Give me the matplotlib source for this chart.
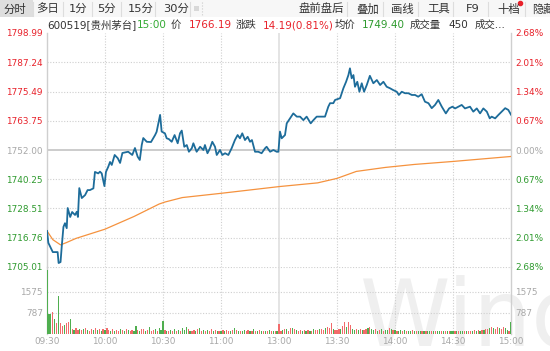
import numpy as np
import matplotlib
matplotlib.use('Agg')
import matplotlib.pyplot as plt
from matplotlib.patches import Rectangle

plt.rcParams['font.family'] = ['DejaVu Sans', 'Noto Sans CJK SC']

# ---- data ----
prev_close = 1752.00
price_ticks = [1798.99, 1787.24, 1775.49, 1763.75, 1752.00, 1740.25, 1728.51, 1716.76, 1705.01]
pct_labels = ['2.68%', '2.01%', '1.34%', '0.67%', '0.00%', '0.67%', '1.34%', '2.01%', '2.68%']
vol_ticks = [787, 1575]
time_pos = [0, 30, 60, 90, 120, 150, 180, 210, 240]
time_labels = ['09:30', '10:00', '10:30', '11:00', '13:00', '13:30', '14:00', '14:30', '15:00']

# price line, minute index (0..240) and price
price_t = [0, 0.7, 3, 5.5, 6, 7, 7.6, 8.5, 9.3, 10.2, 10.7, 12, 13, 14.5, 15.4, 16, 16.7, 18, 19.7, 21,
           22.2, 24, 24.8, 26.5, 27.4, 28.3, 29.7, 30.5, 31.7, 32.6, 33.5, 35, 36.6, 37.8, 39, 42, 44.1,
           45.5, 46.9, 48, 49, 49.8, 51.6, 53.8, 55.9, 56.7, 58.5, 59.3, 61, 61.9, 63,
           64.5, 66, 67.6, 68.8, 69.7, 71, 72.3, 73.4, 74.9, 75.7, 77.4, 79.2, 80.9, 81.7, 83, 84.3,
           85.5, 86.9, 87.8, 89.5, 90.7, 92.1, 93.8, 95.5, 97.2, 98.6, 99.8, 101, 102.4, 103.8, 105,
           106, 107.6, 109.3, 111, 112.8, 113.6, 115.4, 117.1, 118.8, 119.7, 120.5,
           121.4, 123.1, 124, 125.7, 127.4, 129.2, 130.9, 132.6, 134.3, 136.4, 137.8, 139.5, 143.8,
           145.5, 146.4, 148.1, 149, 151.6, 153.3, 154.7, 155.9, 156.7, 157.6, 158.5, 159.3, 160.5,
           161.6, 162.8, 164, 165.4, 167, 168.8, 170.6, 172.3, 174, 175.7, 177.4, 179, 180.9, 182,
           183.5, 185.2, 186.9, 188.7, 190.4, 192, 193.8, 195.5, 197.3, 199, 200.7, 202.4, 204.2,
           206.3, 208, 209.7, 211.1, 212.8, 214.5, 216.2, 218.8, 220.5, 222.3, 224, 225.7, 227.5,
           229, 230, 231.8, 233.5, 235.2, 237, 238.6, 240]
price_v = [1719.5, 1714.7, 1711.0, 1711.0, 1706.6, 1707.0, 1713.0, 1721.1, 1722.6, 1720.6, 1728.7, 1725.1,
           1727.1, 1725.9, 1727.2, 1725.1, 1736.7, 1732.7, 1733.9, 1735.9,
           1735.9, 1736.6, 1743.2, 1742.6, 1743.3, 1742.6, 1737.5, 1743.2, 1745.3, 1747.2, 1746.0,
           1750.0, 1748.7, 1746.8, 1750.8, 1751.3, 1750.0,
           1752.8, 1749.3, 1748.0, 1754.0, 1756.8, 1755.3, 1755.2, 1758.0, 1759.3, 1766.1, 1759.4,
           1758.7, 1756.7, 1756.4,
           1755.3, 1758.0, 1754.7, 1758.7, 1759.8, 1753.3, 1754.0, 1751.3, 1752.7, 1754.7, 1751.3,
           1753.3, 1752.0, 1754.0, 1750.7, 1752.7,
           1755.3, 1753.3, 1750.0, 1752.0, 1750.0, 1750.7, 1750.0, 1752.7, 1756.0, 1758.0, 1756.7,
           1758.7, 1756.0, 1757.3, 1755.3,
           1756.0, 1751.3, 1751.3, 1750.7, 1752.7, 1753.3, 1751.3, 1752.0, 1751.3, 1751.3, 1759.4,
           1756.7, 1758.0, 1762.7, 1764.7, 1766.7, 1765.4, 1765.4, 1764.0, 1765.4, 1762.7, 1764.0,
           1765.4, 1765.4,
           1769.4, 1770.8, 1770.8, 1772.1, 1772.8, 1776.8, 1779.4, 1782.1, 1784.8, 1780.8, 1782.1,
           1777.4, 1779.4,
           1775.4, 1778.8, 1775.4, 1778.1, 1781.8, 1778.8, 1780.1, 1778.1, 1779.4, 1777.4, 1776.8,
           1776.1, 1775.4, 1774.1,
           1775.4, 1774.8, 1774.8, 1774.1, 1774.1, 1773.4, 1774.4, 1771.4, 1770.8, 1768.8, 1770.1,
           1772.1, 1769.4,
           1766.7, 1768.7, 1769.4, 1768.7, 1769.4, 1770.1, 1768.7, 1769.4, 1767.4, 1768.7, 1766.7,
           1768.7, 1767.4,
           1764.7, 1765.4, 1764.7, 1766.1, 1767.4, 1768.8, 1768.1, 1766.19]

# average price line
avg_t = [0, 3, 7, 10, 15, 30, 45, 58, 61, 70, 90, 120, 140, 150, 160, 175, 190, 210, 240]
avg_v = [1719.5, 1716.0, 1713.9, 1714.8, 1716.5, 1720.2, 1725.3, 1730.3, 1731.1, 1732.9, 1734.6,
         1737.3, 1738.8, 1740.6, 1743.4, 1745.0, 1746.2, 1747.4, 1749.4]

# volume per minute (241 values) and direction (r = up, g = down)
volumes = [
    2390, 760, 735, 830, 570, 400, 1430, 400, 290, 330,
    430, 450, 570, 180, 150, 220, 160, 200, 140, 180,
    230, 150, 120, 190, 160, 210, 140, 170, 130, 190,
    150, 240, 140, 120, 180, 110, 150, 130, 200, 160,
    120, 170, 140, 110, 160, 130, 290, 150, 120, 200,
    170, 110, 140, 260, 130, 150, 180, 120, 220, 160,
    500, 140, 130, 110, 150, 120, 170, 100, 140, 130,
    230, 160, 250, 180, 120, 110, 150, 130, 170, 210,
    120, 140, 110, 160, 130, 180, 120, 150, 100, 130,
    110, 140, 120, 160, 130, 110, 150, 220, 140, 120,
    130, 110, 150, 120, 140, 100, 130, 180, 120, 110,
    140, 100, 130, 120, 110, 150, 100, 120, 110, 130,
    360, 130, 150, 200, 170, 120, 220, 240, 200, 150,
    130, 160, 120, 140, 110, 150, 130, 120, 170, 140,
    150, 180, 200, 160, 230, 250, 220, 400, 180, 150,
    160, 200, 180, 300, 440, 250, 440, 320, 200, 160,
    180, 150, 170, 140, 160, 200, 240, 260, 200, 150,
    180, 130, 160, 170, 120, 150, 140, 210, 190, 160,
    150, 120, 130, 140, 110, 150, 120, 130, 110, 140,
    120, 100, 130, 110, 120, 100, 130, 110, 120, 100,
    110, 130, 100, 120, 110, 100, 120, 110, 130, 100,
    120, 110, 100, 120, 130, 110, 100, 120, 110, 130,
    120, 140, 110, 150, 130, 160, 140, 170, 200, 230,
    260, 210, 180, 250, 220, 190, 260, 240, 160, 130,
    440]
vol_dir = ('gggrgrgrrg' 'rrgrgrrgrg' 'rgrrgrgrgr' 'grrgrgrrgr' 'grgrrggrgr'
           'rgrgrrgrgg' 'grgrgrgrgr' 'gggrgrrgrg' 'rgrgrrgrgr' 'grgrrgrgrg'
           'rggrrgrgrg' 'rgrgrgrgrg' 'rrgrgrrgrg' 'rrgrgrgrgr' 'rgrrgrrrgr'
           'rrgrrgrrgg' 'rgrgrrgrgg' 'rgrgrggrgr' 'grggrgrggr' 'grggrgrggr'
           'grggrgrgrg' 'grgrggrgrr' 'grgrgrgrrg' 'rgrrgrrggr' 'g')

# ---- colours ----
RED = '#e8212a'
GREEN = '#2e9a2e'
GRAY = '#a8a8a8'
DARK = '#333333'
GRID = '#cfcfcf'

W, H = 550, 351
fig = plt.figure(figsize=(W / 100, H / 100), dpi=100)
fig.patch.set_facecolor('white')


def fx(px):
    return px / W


def fy(py):
    return 1 - py / H


# watermark
fig.text(fx(360), fy(346), 'Wind', fontsize=66, color='#efefef', ha='left', va='baseline',
         zorder=-5, family='DejaVu Sans')

ax = fig.add_axes([fx(47), fy(267), fx(511) - fx(47), (267 - 33) / H])
axv = fig.add_axes([fx(47), fy(334), fx(511) - fx(47), (334 - 267) / H])
for a in (ax, axv):
    a.set_facecolor('none')
    a.set_xlim(0, 240)
    for s in ('top', 'bottom'):
        a.spines[s].set_visible(False)
    for s in ('left', 'right'):
        a.spines[s].set_color(GRID)
        a.spines[s].set_linewidth(1.0)

ax.set_ylim(price_ticks[-1], price_ticks[0])
axv.set_ylim(0, 2510)

# grid lines
for p in price_ticks[1:-1]:
    if p == prev_close:
        ax.axhline(p, color='#c8c8c8', lw=1.3, zorder=1)
    else:
        ax.axhline(p, color=GRID, lw=0.8, ls=(0, (1, 1.5)), zorder=1)
axv.axhline(axv.get_ylim()[1], color=GRID, lw=0.8, ls=(0, (1, 1.5)), zorder=1)
for v in vol_ticks:
    axv.axhline(v, color=GRID, lw=0.8, ls=(0, (1, 1.5)), zorder=1)
for t in time_pos[1:-1]:
    for a in (ax, axv):
        if t == 120:
            a.axvline(t, color='#dcdcdc', lw=1.1, zorder=1)
        else:
            a.axvline(t, color=GRID, lw=0.8, ls=(0, (1, 1.5)), zorder=1)

# lines
ax.plot(avg_t, avg_v, color='#f5923e', lw=0.9, zorder=3)
ax.plot(price_t, price_v, color='#1d6c9a', lw=1.3, zorder=4)

# volume bars
mins = np.arange(len(volumes))
bar_cols = ['#f26b6b' if d == 'r' else '#4fae4f' for d in vol_dir]
axv.bar(mins, volumes, width=0.65, color=bar_cols, zorder=3, linewidth=0)

# left price labels
ax.set_yticks(price_ticks)
ax.set_yticklabels([f'{p:.2f}' for p in price_ticks])
ax.tick_params(axis='y', length=0, pad=3, labelsize=6.4)
for p, lab in zip(price_ticks, ax.get_yticklabels()):
    lab.set_color(RED if p > prev_close else (GRAY if p == prev_close else GREEN))
ax.set_xticks([])

# right percent labels
axr = ax.twinx()
axr.set_ylim(ax.get_ylim())
axr.set_yticks(price_ticks)
axr.set_yticklabels(pct_labels)
axr.tick_params(axis='y', length=0, pad=3, labelsize=6.4)
for p, lab in zip(price_ticks, axr.get_yticklabels()):
    lab.set_color(RED if p > prev_close else (GRAY if p == prev_close else GREEN))
for s in axr.spines.values():
    s.set_visible(False)

# volume labels
axv.set_yticks(vol_ticks)
axv.set_yticklabels([str(v) for v in vol_ticks])
axv.tick_params(axis='y', length=0, pad=3, labelsize=6.4, labelcolor=GRAY,
                right=False, labelright=False)
axvr = axv.twinx()
axvr.set_ylim(axv.get_ylim())
axvr.set_yticks(vol_ticks)
axvr.set_yticklabels([str(v) for v in vol_ticks])
axvr.tick_params(axis='y', length=0, pad=3, labelsize=6.4, labelcolor=GRAY)
for s in axvr.spines.values():
    s.set_visible(False)

axv.set_xticks(time_pos)
axv.set_xticklabels(time_labels)
axv.tick_params(axis='x', length=0, pad=2, labelsize=6.4, labelcolor=GRAY)

# ---- toolbar ----
fig.patches.append(Rectangle((0, fy(17)), 1, 17 / H, transform=fig.transFigure,
                             facecolor='#f7f7f7', edgecolor='none', zorder=0))
fig.patches.append(Rectangle((0, fy(17)), fx(33), 17 / H, transform=fig.transFigure,
                             facecolor='#dedede', edgecolor='none', zorder=0))
tabs_left = [('分时', 3), ('多日', 36), ('1分', 69), ('5分', 97), ('15分', 128), ('30分', 163)]
tabs_right = [('盘前盘后', 299), ('叠加', 356), ('画线', 391), ('工具', 427), ('F9', 466),
              ('十档', 497), ('隐藏', 532)]
for txt, x in tabs_left + tabs_right:
    fig.text(fx(x), fy(9), txt, fontsize=8.2, color=DARK, ha='left', va='center')
for x in [33, 63, 92, 121, 155, 190, 347, 383, 418, 453, 488, 525]:
    fig.add_artist(plt.Line2D([fx(x), fx(x)], [fy(2), fy(16)], transform=fig.transFigure,
                              color='#dddddd', lw=0.8))
fig.add_artist(plt.Line2D([fx(202), fx(202)], [fy(2), fy(16)], transform=fig.transFigure,
                          color='#cccccc', lw=0.8, ls=':'))
fig.patches.append(Rectangle((fx(194), fy(11)), 5 / W, 5 / H, transform=fig.transFigure,
                             facecolor='#d8d8d8', edgecolor='none'))
fig.add_artist(plt.Line2D([fx(520)], [fy(3)], transform=fig.transFigure, marker='o',
                          ms=3, color='#e8212a', lw=0))

# ---- info line ----
info = [('600519[贵州茅台]', 47, DARK), ('15:00', 137, '#33aa33'), ('价', 171, DARK),
        ('1766.19', 189, RED), ('涨跌', 236, DARK), ('14.19(0.81%)', 263, RED),
        ('均价', 335, DARK), ('1749.40', 362, GREEN), ('成交量', 410, DARK),
        ('450', 448, DARK), ('成交...', 475, DARK)]
for txt, x, col in info:
    fig.text(fx(x), fy(25), txt, fontsize=7.5, color=col, ha='left', va='center')

fig.savefig('out.png', dpi=100, facecolor='white')
